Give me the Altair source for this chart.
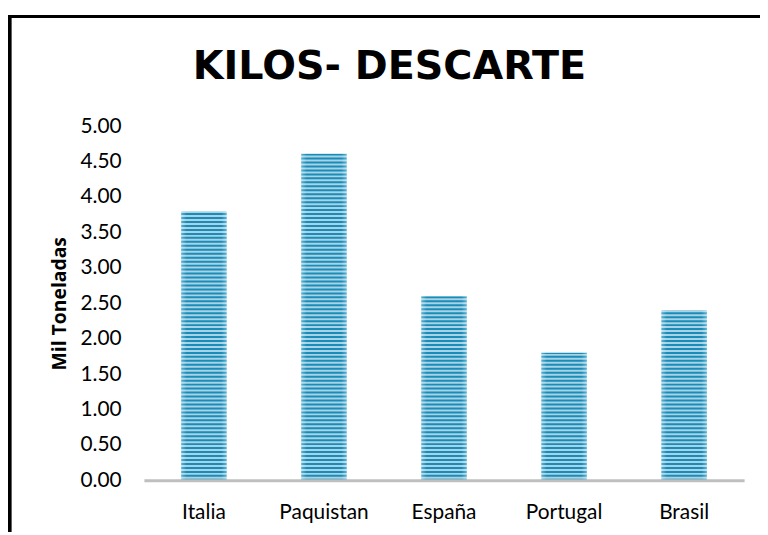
import altair as alt
import pandas as pd

paises = ["Italia", "Paquistan", "España", "Portugal", "Brasil"]
kilos = [3.80, 4.61, 2.60, 1.80, 2.40]
y_ticks = [0, 0.5, 1, 1.5, 2, 2.5, 3, 3.5, 4, 4.5, 5]

df = pd.DataFrame({"pais": paises, "kilos": kilos})

W, H = 605, 357
PAD = {"left": 137, "top": 117, "right": 16, "bottom": 50}

x_enc = alt.X(
    "pais:N",
    sort=None,
    scale=alt.Scale(paddingInner=0.62, paddingOuter=0.31),
    axis=alt.Axis(
        title=None, labelAngle=0, ticks=False, labelPadding=21,
        labelFont="Lato", labelFontSize=21, labelColor="#000000",
        domainColor="#bfbfbf", domainWidth=3, zindex=1,
    ),
)
y_scale = alt.Scale(domain=[0, 5], nice=False)
y_axis = alt.Axis(
    title="Mil Toneladas", values=y_ticks, format=".2f",
    grid=False, ticks=False, domain=False, labelPadding=23,
    labelOverlap=False,
    labelFont="Lato", labelFontSize=21, labelColor="#000000",
    titleFont="Open Sans", titleFontSize=19.5, titleFontWeight="bold",
    titleColor="#000000", titleX=-79, titleY=H / 2, titleAngle=270,
    titleAlign="center", titleBaseline="alphabetic",
)

grad = alt.LinearGradient(
    gradient="linear", x1=0, y1=0, x2=1, y2=0,
    stops=[
        alt.GradientStop(offset=0, color="#5bb3d4"),
        alt.GradientStop(offset=0.12, color="#1a8cb9"),
        alt.GradientStop(offset=0.88, color="#1a8cb9"),
        alt.GradientStop(offset=1, color="#5bb3d4"),
    ],
)

bars = alt.Chart(df).mark_bar(color=grad).encode(
    x=x_enc, y=alt.Y("kilos:Q", scale=y_scale, axis=y_axis)
)

stripes = alt.Chart(alt.sequence(0.035, 4.99, 0.056, as_="s")).mark_rule(
    color="white", strokeWidth=2, opacity=0.62
).encode(
    y=alt.Y("s:Q", scale=y_scale, axis=y_axis),
    x=alt.value(0),
    x2=alt.value(W),
)

border_left = alt.Chart(df).mark_rule(color="#000000", strokeWidth=3).encode(
    x=alt.value(-135.3), y=alt.value(-112), y2=alt.value(H + 60)
)
border_top = alt.Chart(df).mark_rule(color="#000000", strokeWidth=3).encode(
    y=alt.value(-110.5), x=alt.value(-137), x2=alt.value(W + 30)
)

chart = alt.layer(bars, stripes, border_left, border_top).properties(
    width=W,
    height=H,
    padding=PAD,
    autosize=alt.AutoSizeParams(type="none"),
    title=alt.TitleParams(
        "KILOS- DESCARTE", font="DejaVu Sans", fontSize=40, fontWeight="bold",
        color="#000000", anchor="middle", frame="group", dx=-55,
        baseline="alphabetic", offset=-106,
    ),
).configure_view(stroke=None)

chart.save("out.html", embed_options={"renderer": "svg", "actions": False})
